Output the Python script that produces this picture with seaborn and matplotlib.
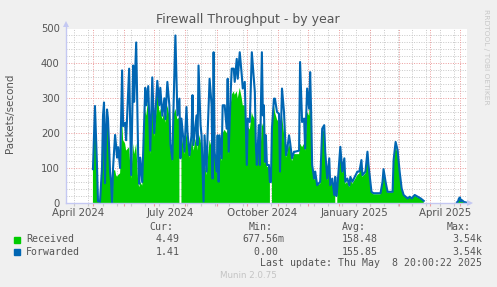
import numpy as np
import pandas as pd
import matplotlib
matplotlib.use("Agg")
import matplotlib.pyplot as plt
import seaborn as sns
from matplotlib.lines import Line2D
from matplotlib.patches import Rectangle

# ---- data (days after 2024-04-01, packets/second) ----
nan = np.nan
days = [30, 32, 34, 35, 37, 39, 40, 41, 42, 43, 44, 45, 47, 48, 49, 50, 52, 53, 54, 55,
        57, 59, 60, 62, 63, 66, 68, 70, 71, 73, 75, 76, 77, 79, 82, 83, 85, 87, 89, 91,
        93, 94, 96, 97, 99, 101, 102, 104, 106, 107, 109, 110, 112, 114, 116, 117, 118, 121, 123, 124,
        126, 128, 129, 130, 132, 133, 134, 135, 137, 138, 140, 141, 143, 144, 146, 148, 149, 150, 151, 153,
        154, 155, 156, 158, 159, 161, 163, 164, 165, 167, 168, 170, 171, 173, 174, 176, 178, 179, 181, 183,
        184, 186, 188, 189, 191, 192, 193, 195, 196, 198, 199, 200, 201, 202, 203, 205, 206, 207, 208, 210,
        211, 213, 215, 216, 218, 220, 221, 222, 223, 225, 226, 228, 230, 231, 235, 236, 238, 240, 241, 242,
        243, 245, 246, 247, 248, 250, 251, 253, 256, 258, 260, 261, 263, 265, 266, 268, 270, 271, 272, 273,
        276, 278, 280, 281, 283, 285, 286, 288, 293, 295, 297, 298, 301, 303, 304, 307, 309, 313, 316, 318,
        319, 321, 323, 326, 328, 329, 331, 333, 335, 337, 339, 343, 345, 347, 350, 353, 356, 359,
        392, 393, 394, 395, 396, 397, 399, 401]

forwarded = [97, 278, 110, 5, 3, 100, 250, 288, 57, 200, 268, 240, 90, 60, 0, 100, 195, 165, 130, 160,
             100, 380, 220, 230, 180, 385, 80, 394, 290, 460, 130, 55, 130, 60, 330, 280, 335, 150, 360, 200,
             300, 350, 280, 330, 250, 300, 240, 347, 280, 170, 125, 260, 480, 251, 299, 128, 242, 147, 275, 204,
             137, 194, 309, 166, 223, 251, 166, 394, 223, 194, 4, 194, 90, 194, 356, 280, 70, 432, 147, 90,
             194, 61, 194, 128, 280, 280, 213, 356, 147, 318, 385, 385, 347, 413, 356, 432, 366, 328, 347, 109,
             242, 232, 432, 394, 318, 166, 109, 223, 109, 432, 251, 280, 118, 194, 109, 109, 60, 60, 213, 299,
             299, 261, 256, 90, 328, 261, 194, 137, 150, 194, 175, 128, 147, 147, 150, 404, 232, 242, 156, 242,
             328, 270, 375, 261, 109, 70, 90, 51, 61, 213, 223, 147, 70, 128, 51, 70, 23, 75, 20, 42,
             161, 90, 128, 61, 70, 50, 75, 61, 90, 90, 123, 80, 90, 147, 110, 32, 28, 28, 28, 61,
             97, 61, 32, 32, 32, 123, 175, 151, 90, 42, 23, 13, 18, 13, 23, 18, 13, 6,
             2, 4, 13, 16, 5, 8, 3, 1.41]

received = [95, 268, 100, 3, 2, 90, 240, 265, 55, 190, 255, 235, 85, 55, nan, 90, 95, 80, 75, 80,
            85, 240, 180, 170, 150, 160, 70, 170, 140, 170, 60, 45, 60, 50, 270, 250, 300, 140, 320, 190,
            260, 345, 260, 270, 240, 260, 230, 280, 250, 160, 120, 250, 270, 240, 245, nan, 200, 140, 200, 180,
            130, 170, 190, 150, 180, 190, 150, 200, 180, 160, 4, 120, 80, 120, 180, 160, 65, 170, 140, 85,
            150, 60, 150, 120, 200, 210, 200, 220, 140, 280, 310, 320, 310, 320, 300, 330, 300, 280, 280, 105,
            220, 210, 260, 250, 240, 150, 105, 200, 105, 230, 220, 230, 110, 150, 105, 100, 55, nan, 200, 280,
            260, 240, 230, 85, 250, 200, 170, 130, 140, 170, 160, 120, 140, 140, 140, 170, 160, 170, 150, 200,
            260, 250, 320, 230, 100, 65, 80, 50, 55, 200, 210, 130, 65, 110, 50, 60, 20, 70, nan, 40,
            150, 85, 110, 55, 60, 45, 70, 55, 80, 85, 115, 75, 85, 135, 100, 30, 25, 25, 25, 55,
            90, 55, 30, 30, 30, 110, 165, 140, 85, 40, 22, 12, 17, 12, 21, 16, 12, 5,
            3, 5, 14, 15, 6, 6, 5, 4.49]

month_ticks = pd.date_range("2024-05-01", "2025-05-01", freq="MS")
label_months = ["2024-04-01", "2024-07-01", "2024-10-01", "2025-01-01", "2025-04-01"]
label_text = ["April 2024", "July 2024", "October 2024", "January 2025", "April 2025"]

start = pd.Timestamp("2024-04-01")
df = pd.DataFrame({"date": start + pd.to_timedelta(days, unit="D"),
                   "Received": received, "Forwarded": forwarded})
df["segment"] = (np.array(days) > 380).astype(int)

W, H = 497, 287
fig = plt.figure(figsize=(W / 100, H / 100), dpi=100, facecolor="#F0F0F0")
L, R, T, B = 66, 467, 28.5, 203
ax = fig.add_axes([L / W, 1 - B / H, (R - L) / W, (B - T) / H])
ax.set_facecolor("white")
for s in ax.spines.values():
    s.set_visible(False)

x0 = start + pd.Timedelta(days=3.2)
x1 = start + pd.Timedelta(days=402)
ax.set_xlim(x0, x1)
ax.set_ylim(0, 500)

# grid
minor_x = pd.date_range("2024-04-12 12:00", "2025-05-08", freq="14D")
for d in minor_x:
    ax.axvline(d, color="#c8c8c8", lw=0.7, ls=(0, (1, 1.5)), zorder=0.5)
for v in range(20, 500, 20):
    if v % 100:
        ax.axhline(v, color="#c8c8c8", lw=0.7, ls=(0, (1, 1.5)), zorder=0.5)
for d in month_ticks:
    ax.axvline(d, color="#ec9c9c", lw=0.7, ls=(0, (1, 1.5)), zorder=0.6)
for v in range(100, 501, 100):
    ax.axhline(v, color="#ec9c9c", lw=0.7, ls=(0, (1, 1.5)), zorder=0.6)

# series
for seg, g in df.groupby("segment"):
    ax.fill_between(g["date"], 0, g["Received"], color="#00CC00", lw=0, zorder=2)
sns.lineplot(data=df, x="date", y="Forwarded", units="segment", estimator=None,
             color="#0066B3", lw=1.5, ax=ax, zorder=3)

# ticks
ax.set_xticks(month_ticks)
ax.set_xticklabels([])
ax.set_xticks(minor_x, minor=True)
ax.tick_params(axis="x", which="major", length=2.5, color="#ec9c9c", width=0.8)
ax.tick_params(axis="x", which="minor", length=2, color="#c8c8c8", width=0.8)
ax.set_yticks(range(0, 501, 100))
ax.set_yticklabels([str(v) for v in range(0, 501, 100)], fontsize=7.2, color="#555555")
ax.tick_params(axis="y", length=0, pad=4.5)
ax.set_xlabel("")
ax.set_ylabel("")

trans = ax.get_xaxis_transform()
for m, t in zip(label_months, label_text):
    ms = pd.Timestamp(m)
    mid = ms + (ms + pd.offsets.MonthBegin(1) - ms) / 2
    ax.text(mid, -(212.5 - B) / (B - T), t, transform=trans, ha="center", va="center",
            fontsize=7.4, color="#555555", clip_on=False)

# axis lines with arrows
ax_col = "#c4c8f2"
fig.add_artist(Line2D([L / W, L / W], [1 - B / H, 1 - 24 / H], color=ax_col, lw=1))
fig.add_artist(Line2D([L / W, 470 / W], [1 - B / H, 1 - B / H], color=ax_col, lw=1))
fig.add_artist(Line2D([L / W], [1 - 24 / H], marker="^", ms=4.5, color=ax_col, mew=0))
fig.add_artist(Line2D([470 / W], [1 - B / H], marker=">", ms=4.5, color=ax_col, mew=0))

# texts
fig.text(248 / W, 1 - 19 / H, "Firewall Throughput - by year", ha="center", va="center",
         fontsize=9, color="#555555")
fig.text(10 / W, 1 - 113 / H, "Packets/second", rotation=90, ha="center", va="center",
         fontsize=7.4, color="#555555")
fig.text(486 / W, 1 - 57 / H, "RRDTOOL / TOBI OETIKER", rotation=270, ha="center", va="center",
         fontsize=5.4, color="#c8c8c8")

mono = dict(family="DejaVu Sans Mono", fontsize=7.15, color="#555555", va="center")
fig.text(149.3 / W, 1 - 227.5 / H, "Cur:", **mono)
fig.text(248.3 / W, 1 - 227.5 / H, "Min:", **mono)
fig.text(341.7 / W, 1 - 227.5 / H, "Avg:", **mono)
fig.text(446.7 / W, 1 - 227.5 / H, "Max:", **mono)
rows = [("Received", "#00CC00", "4.49", "677.56m", "158.48", "3.54k", 239.5),
        ("Forwarded", "#0066B3", "1.41", "0.00", "155.85", "3.54k", 251.7)]
for name, col, cur, mn, avg, mx, yy in rows:
    fig.add_artist(Rectangle((14 / W, 1 - (yy + 3) / H), 6 / W, 6 / H, color=col,
                             transform=fig.transFigure))
    fig.text(26 / W, 1 - yy / H, name, **mono)
    fig.text(179.5 / W, 1 - yy / H, cur, ha="right", **mono)
    fig.text(284.5 / W, 1 - yy / H, mn if mn != "0.00" else mn + " ", ha="right", **mono)
    fig.text(377.5 / W, 1 - yy / H, avg, ha="right", **mono)
    fig.text(482.5 / W, 1 - yy / H, mx, ha="right", **mono)
fig.text(482.5 / W, 1 - 263.3 / H, "Last update: Thu May  8 20:00:22 2025", ha="right", **mono)
fig.text(248 / W, 1 - 276 / H, "Munin 2.0.75", ha="center", va="center", fontsize=6.3,
         color="#c4c4c4")

fig.savefig("out.png", dpi=100, facecolor=fig.get_facecolor())
